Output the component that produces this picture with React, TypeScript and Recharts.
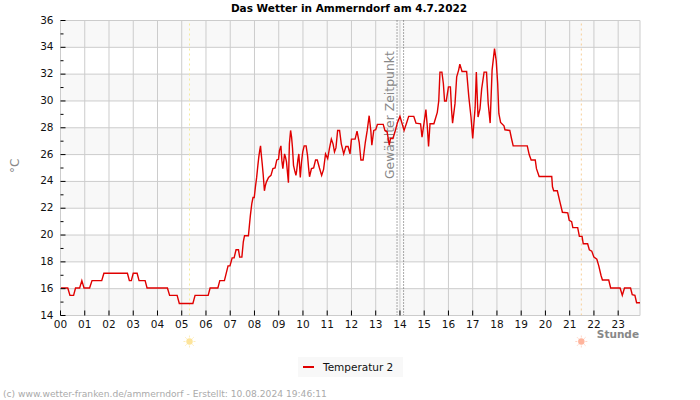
import { CartesianGrid, Line, LineChart, ReferenceLine, XAxis, YAxis } from "recharts";

const hours = [
  0, 0.3, 0.39, 0.54, 0.62, 0.79, 0.88, 0.97, 1.2, 1.3,
  1.7, 1.79, 2.76, 2.84, 2.92, 3, 3.16, 3.24, 3.49, 3.57,
  4.41, 4.5, 4.81, 4.9, 5.46, 5.55, 6.09, 6.17, 6.49, 6.57,
  6.76, 6.91, 6.99, 7.08, 7.16, 7.24, 7.34, 7.39, 7.48, 7.54,
  7.59, 7.75, 7.79, 7.83, 7.89, 7.94, 7.99, 8.04, 8.09, 8.14,
  8.18, 8.22, 8.25, 8.27, 8.32, 8.36, 8.41, 8.45, 8.49, 8.58,
  8.68, 8.76, 8.85, 8.92, 8.99, 9.03, 9.09, 9.13, 9.17, 9.21,
  9.24, 9.28, 9.32, 9.4, 9.44, 9.49, 9.53, 9.57, 9.61, 9.66,
  9.71, 9.74, 9.79, 9.83, 9.89, 9.94, 9.99, 10.05, 10.13, 10.19,
  10.23, 10.27, 10.35, 10.44, 10.52, 10.59, 10.68, 10.77, 10.85, 10.93,
  11.02, 11.09, 11.17, 11.24, 11.3, 11.36, 11.43, 11.51, 11.58, 11.68,
  11.77, 11.86, 11.94, 12.0, 12.15, 12.23, 12.32, 12.39, 12.48, 12.57,
  12.65, 12.73, 12.8, 12.84, 12.92, 13.0, 13.07, 13.31, 13.38, 13.47,
  13.56, 13.61, 13.71, 13.81, 13.9, 14.0, 14.09, 14.17, 14.28, 14.36,
  14.57, 14.66, 14.85, 14.91, 15.02, 15.07, 15.13, 15.18, 15.24, 15.4,
  15.54, 15.6, 15.65, 15.73, 15.79, 15.84, 15.91, 16.0, 16.08, 16.13,
  16.17, 16.27, 16.34, 16.42, 16.47, 16.56, 16.75, 16.84, 16.93, 17.0,
  17.1, 17.15, 17.22, 17.3, 17.37, 17.47, 17.57, 17.64, 17.72, 17.8,
  17.9, 17.97, 18.03, 18.08, 18.15, 18.29, 18.33, 18.53, 18.6, 18.67,
  19.25, 19.33, 19.41, 19.58, 19.63, 19.74, 20.26, 20.29, 20.34, 20.49,
  20.6, 20.7, 20.92, 20.98, 21.08, 21.13, 21.33, 21.4, 21.51, 21.56,
  21.74, 21.81, 21.91, 22.0, 22.12, 22.2, 22.29, 22.35, 22.61, 22.69,
  23.08, 23.17, 23.26, 23.51, 23.58, 23.69, 23.76, 23.9,
];

const temperatur2 = [
  16.05, 16.05, 15.5, 15.5, 16.05, 16.05, 16.6, 16.05, 16.05, 16.6,
  16.6, 17.15, 17.15, 16.6, 16.6, 17.15, 17.15, 16.6, 16.6, 16.05,
  16.05, 15.5, 15.5, 14.9, 14.9, 15.5, 15.5, 16.05, 16.05, 16.6,
  16.6, 17.7, 17.7, 18.3, 18.3, 18.9, 18.9, 18.35, 18.35, 19.5,
  19.95, 19.95, 20.7, 21.45, 22.35, 22.8, 22.8, 23.6, 24.3, 25.2,
  25.85, 26.35, 26.65, 26.2, 25.3, 24.5, 23.3, 23.7, 23.95, 24.3,
  24.45, 24.95, 25, 25.6, 25.65, 26.3, 26.65, 25.55, 24.95, 25.55,
  26.05, 25.8, 25.45, 23.9, 26.8, 27.8, 27.3, 26.45, 25.2, 24.8,
  24.45, 24.8, 25.6, 26.05, 24.3, 25.45, 26.2, 26.65, 26.65, 25.9,
  25.05, 24.35, 24.95, 25, 25.6, 25.6, 25, 24.45, 24.9, 26.05,
  25.7, 26.45, 27.15, 26.8, 26.2, 26.5, 27.8, 27.8, 26.8, 26.05,
  26.6, 26.6, 26.05, 27.15, 27.15, 27.75, 26.9, 25.6, 25.6, 26.9,
  27.8, 28.9, 27.75, 26.7, 27.8, 27.85, 28.25, 28.25, 27.8, 27.7,
  26.7, 27.2, 27.2, 27.8, 28.4, 28.85, 28.3, 27.8, 28.4, 28.85,
  28.85, 28.35, 28.3, 27.3, 28.7, 29.35, 28.05, 26.6, 28.3, 28.3,
  29.15, 30, 32.15, 32.15, 31.3, 30, 30, 31.05, 31.05, 29.3,
  28.35, 29.8, 31.8, 32.3, 32.75, 32.2, 32.2, 30.3, 28.8, 27.2,
  29.5, 32.15, 28.8, 29.4, 30.9, 32.15, 32.15, 29.8, 28.35, 32.3,
  33.9, 33, 31.3, 29.05, 28.4, 28.15, 27.85, 27.8, 27.2, 26.65,
  26.65, 26, 25.6, 25.6, 24.95, 24.37, 24.37, 23.6, 23.3, 23.3,
  22.45, 21.7, 21.65, 21.1, 21, 20.55, 20.55, 19.9, 19.9, 19.35,
  19.35, 18.9, 18.8, 18.35, 18.2, 17.7, 17, 16.65, 16.65, 16.05,
  16.05, 15.5, 16.05, 16.05, 15.55, 15.5, 14.95, 14.95,
];

const hourTicks = Array.from({ length: 24 }, (_, h) => h);
const tempTicks = [14, 15, 16, 17, 18, 19, 20, 21, 22, 23, 24, 25, 26, 27, 28, 29, 30, 31, 32, 33, 34, 35, 36];
const gridTemps = [14, 16, 18, 20, 22, 24, 26, 28, 30, 32, 34, 36];
const selectedHours = [13.88, 14.15];
const sunrise = 5.32;
const sunset = 21.48;

const chartData = hours.map((hour, i) => ({ hour, temp: temperatur2[i] }));

const FONT = "'DejaVu Sans', sans-serif";

const HourTick = ({ x, y, payload }: any) => (
  <g>
    <line x1={x} x2={x} y1={y - 5} y2={y} stroke="#000" />
    <text x={x} y={y + 12} textAnchor="middle" fontSize={10.5} fontFamily={FONT} fill="#111">
      {String(payload.value).padStart(2, "0")}
    </text>
  </g>
);

const TempTick = ({ x, y, payload }: any) => {
  const major = payload.value % 2 === 0;
  return (
    <g>
      <line x1={x} x2={x + (major ? 5 : 3)} y1={y} y2={y} stroke="#000" />
      {major && (
        <text x={x - 7} y={y + 3} textAnchor="end" fontSize={10.5} fontFamily={FONT} fill="#111">
          {payload.value}
        </text>
      )}
    </g>
  );
};

// small sun marker below the axis, at the foot of the sunrise/sunset line
const SunMark = ({ viewBox, core, ray }: any) => {
  const cx = viewBox.x;
  const cy = viewBox.y + viewBox.height + 26;
  return (
    <g>
      {[0, 45, 90, 135, 180, 225, 270, 315].map((a) => (
        <line
          key={a}
          x1={cx + 4 * Math.cos((a * Math.PI) / 180)}
          y1={cy + 4 * Math.sin((a * Math.PI) / 180)}
          x2={cx + 6 * Math.cos((a * Math.PI) / 180)}
          y2={cy + 6 * Math.sin((a * Math.PI) / 180)}
          stroke={ray}
        />
      ))}
      <circle cx={cx} cy={cy} r={3.2} fill={core} />
    </g>
  );
};

const SelectedLabel = ({ viewBox }: any) => (
  <text
    transform={`translate(${viewBox.x - 3}, 179) rotate(-90)`}
    fontSize={12.4}
    fontFamily={FONT}
    fill="#888"
  >
    Gewählter Zeitpunkt
  </text>
);

export default function App() {
  return (
    <div style={{ position: "absolute", left: 0, top: 0, width: 700, height: 400, background: "#fff", fontFamily: FONT }}>
      <LineChart width={700} height={400} data={chartData} margin={{ top: 20.5, right: 60, bottom: 54.5, left: 0.5 }}>
        {/* first stripe falls above the plot and stays white, so 36-34 gets the grey */}
        <CartesianGrid
          stroke="#cccccc"
          horizontalValues={gridTemps}
          verticalValues={hourTicks}
          horizontalFill={["#ffffff", "#f8f8f8"]}
          fillOpacity={1}
        />
        <XAxis
          dataKey="hour"
          type="number"
          domain={[0, 23.9]}
          ticks={hourTicks}
          interval={0}
          tick={HourTick}
          tickLine={false}
          tickSize={0}
          tickMargin={0}
          height={30}
          axisLine={{ stroke: "#cccccc" }}
        />
        <YAxis
          type="number"
          domain={[14, 36]}
          ticks={tempTicks}
          interval={0}
          tick={TempTick}
          tickLine={false}
          tickSize={0}
          tickMargin={0}
          width={60}
          axisLine={{ stroke: "#cccccc" }}
        />
        <ReferenceLine x={23.9} stroke="#cccccc" />
        <ReferenceLine
          x={sunrise}
          stroke="#f6eb9c"
          strokeDasharray="2 3"
          label={<SunMark core="#fde49a" ray="#fdeebc" />}
        />
        <ReferenceLine
          x={sunset}
          stroke="#f7cf96"
          strokeDasharray="2 3"
          label={<SunMark core="#ffb49c" ray="#ffd5c6" />}
        />
        <ReferenceLine x={selectedHours[0]} stroke="#555" strokeDasharray="1 2" label={<SelectedLabel />} />
        <ReferenceLine x={selectedHours[1]} stroke="#555" strokeDasharray="1 2" />
        <Line
          type="linear"
          dataKey="temp"
          stroke="#e00000"
          strokeWidth={1.4}
          dot={false}
          isAnimationActive={false}
        />
        <text x={349} y={12} textAnchor="middle" fontSize={10.5} fontWeight="bold" fontFamily={FONT} fill="#000">
          Das Wetter in Ammerndorf am 4.7.2022
        </text>
        <text x={639} y={338} textAnchor="end" fontSize={10.5} fontWeight="bold" fontFamily={FONT} fill="#888">
          Stunde
        </text>
        <text transform="translate(19, 173) rotate(-90)" fontSize={12} fontFamily={FONT} fill="#888">
          °C
        </text>
        <text x={3} y={397} fontSize={9.15} fontFamily={FONT} fill="#aaa">
          (c) www.wetter-franken.de/ammerndorf - Erstellt: 10.08.2024 19:46:11
        </text>
      </LineChart>
      <div
        style={{
          position: "absolute",
          left: 298,
          top: 357,
          width: 105,
          height: 20,
          background: "#f8f8f8",
          fontSize: 10.5,
          lineHeight: "20px",
          color: "#111",
        }}
      >
        <span style={{ position: "absolute", left: 5, top: 9, width: 11, height: 2, background: "#e00000" }} />
        <span style={{ position: "absolute", left: 25, top: 0, whiteSpace: "nowrap" }}>Temperatur 2</span>
      </div>
    </div>
  );
}
